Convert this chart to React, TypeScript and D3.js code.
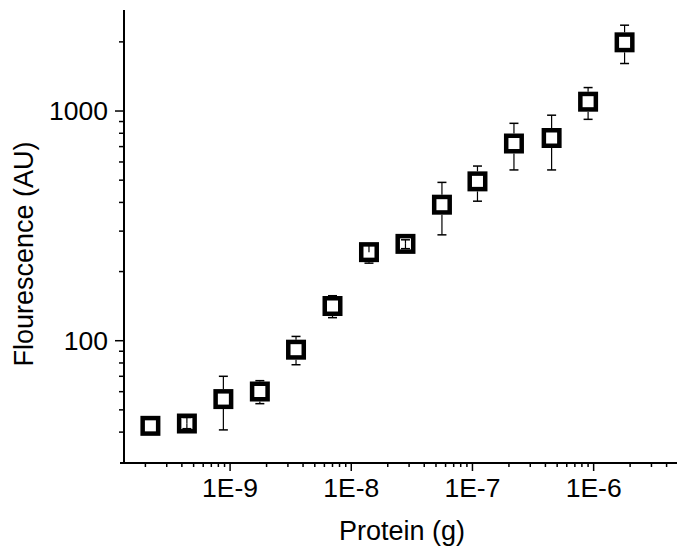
import React from "react";
import * as d3 from "d3";

const protein = [2.2e-10, 4.4e-10, 8.8e-10, 1.76e-9, 3.5e-9, 7.0e-9, 1.4e-8, 2.8e-8, 5.6e-8, 1.1e-7, 2.2e-7, 4.5e-7, 9.0e-7, 1.8e-6];
const fluorescence = [42.6, 43.6, 55.7, 60.1, 91.4, 141.6, 243, 264, 391, 494, 722, 763, 1098, 1991];
const errUpper = [42.6, 46.3, 70, 67, 104.4, 157, 262, 275, 489, 576, 884, 959, 1265, 2364];
const errLower = [42.6, 41.4, 40.9, 53.2, 78.6, 126, 217.6, 251.6, 289, 405, 554, 554, 920, 1610];

const xTickValues = [1e-9, 1e-8, 1e-7, 1e-6];
const xTickLabels = ["1E-9", "1E-8", "1E-7", "1E-6"];
const yTickValues = [100, 1000];
const yTickLabels = ["100", "1000"];

const xTitle = "Protein (g)";
const yTitle = "Flourescence (AU)";

const W = 677;
const H = 546;
const FONT = "'Liberation Sans', Arial, sans-serif";

export default function App() {
  const x = d3.scaleLog().domain([1.332e-10, 6.24e-6]).range([124, 690]);
  const y = d3.scaleLog().domain([29.35, 2753]).range([463, 10]);

  const xMinor: number[] = [];
  for (let e = -10; e <= -6; e++) {
    for (let m = 2; m <= 9; m++) {
      const v = m * Math.pow(10, e);
      const px = x(v);
      if (px > 127 && px < 677) xMinor.push(v);
    }
  }
  const yMinor: number[] = [];
  for (let e = 1; e <= 3; e++) {
    for (let m = 2; m <= 9; m++) {
      const v = m * Math.pow(10, e);
      const py = y(v);
      if (py > 12 && py < 460) yMinor.push(v);
    }
  }

  const half = 10;
  const side = 15.5;
  const capW = 4.5;

  return (
    <svg width={W} height={H} style={{ position: "absolute", left: 0, top: 0, background: "#fff" }}>
      <rect x={0} y={0} width={W} height={H} fill="#fff" />
      {/* axes */}
      <line x1={124} x2={124} y1={10} y2={464} stroke="#000" strokeWidth={2} />
      <line x1={120} x2={680} y1={463} y2={463} stroke="#000" strokeWidth={2} />
      {/* y ticks */}
      {yTickValues.map((v, i) => (
        <g key={"yt" + i}>
          <line x1={115} x2={124} y1={y(v)} y2={y(v)} stroke="#000" strokeWidth={1.5} />
          <text x={108} y={y(v)} dy="0.35em" textAnchor="end" fontFamily={FONT} fontSize={26.5} fill="#000">
            {yTickLabels[i]}
          </text>
        </g>
      ))}
      {yMinor.map((v, i) => (
        <line key={"ym" + i} x1={119} x2={124} y1={y(v)} y2={y(v)} stroke="#000" strokeWidth={1.5} />
      ))}
      {/* x ticks */}
      {xTickValues.map((v, i) => (
        <g key={"xt" + i}>
          <line x1={x(v)} x2={x(v)} y1={463} y2={471} stroke="#000" strokeWidth={1.5} />
          <text x={x(v)} y={497} textAnchor="middle" fontFamily={FONT} fontSize={26.5} fill="#000">
            {xTickLabels[i]}
          </text>
        </g>
      ))}
      {xMinor.map((v, i) => (
        <line key={"xm" + i} x1={x(v)} x2={x(v)} y1={463} y2={467} stroke="#000" strokeWidth={1.5} />
      ))}
      {/* titles */}
      <text x={402} y={540} textAnchor="middle" fontFamily={FONT} fontSize={27} fill="#000">
        {xTitle}
      </text>
      <text
        transform={`translate(33,254) rotate(-90)`}
        textAnchor="middle"
        fontFamily={FONT}
        fontSize={27}
        fill="#000"
      >
        {yTitle}
      </text>
      {/* points */}
      {protein.map((p, i) => {
        const cx = x(p);
        const cy = y(fluorescence[i]);
        return (
          <rect
            key={"pt" + i}
            x={cx - side / 2}
            y={cy - side / 2}
            width={side}
            height={side}
            fill="#fff"
            stroke="#000"
            strokeWidth={4.5}
          />
        );
      })}
      {/* error bars */}
      {protein.map((p, i) => {
        const cx = x(p);
        const cy = y(fluorescence[i]);
        const yt = y(errUpper[i]);
        const yb = y(errLower[i]);
        const els: React.ReactNode[] = [];
        if (cy - yt > 1) {
          const from = yt < cy - half ? cy - half : cy;
          els.push(<line key="tv" x1={cx} x2={cx} y1={yt} y2={from} stroke="#000" strokeWidth={1.2} />);
          els.push(<line key="tc" x1={cx - capW} x2={cx + capW} y1={yt} y2={yt} stroke="#000" strokeWidth={1.5} />);
        }
        if (yb - cy > 1) {
          const from = yb > cy + half ? cy + half : cy;
          els.push(<line key="bv" x1={cx} x2={cx} y1={from} y2={yb} stroke="#000" strokeWidth={1.2} />);
          els.push(<line key="bc" x1={cx - capW} x2={cx + capW} y1={yb} y2={yb} stroke="#000" strokeWidth={1.5} />);
        }
        return <g key={"eb" + i}>{els}</g>;
      })}
    </svg>
  );
}
